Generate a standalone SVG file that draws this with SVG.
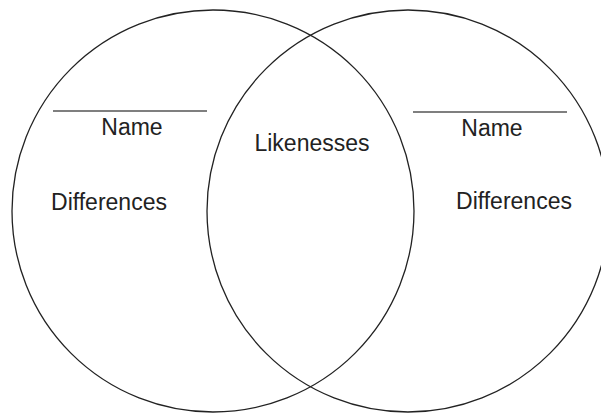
<svg xmlns="http://www.w3.org/2000/svg" width="601" height="414" viewBox="0 0 601 414">
<style>
.c{fill:none;stroke:#222;stroke-width:1.3}
.l{stroke:#555;stroke-width:1.5}
.t{font-family:"Liberation Sans",Arial,sans-serif;font-size:23px;fill:#222}
</style>
<rect width="601" height="414" fill="#fff"/>
<g id="left">
<circle class="c" cx="213" cy="211" r="201"/>
<line class="l" x1="53" y1="111" x2="207" y2="111"/>
<text class="t" x="132" y="135" text-anchor="middle">Name</text>
<text class="t" x="109" y="210" text-anchor="middle">Differences</text>
</g>
<g id="right">
<circle class="c" cx="408" cy="211" r="201"/>
<line class="l" x1="413" y1="112" x2="567" y2="112"/>
<text class="t" x="492" y="136" text-anchor="middle">Name</text>
<text class="t" x="514" y="209" text-anchor="middle">Differences</text>
</g>
<g id="middle">
<text class="t" x="312" y="151" text-anchor="middle">Likenesses</text>
</g>
<g id="connectors"></g>
</svg>
